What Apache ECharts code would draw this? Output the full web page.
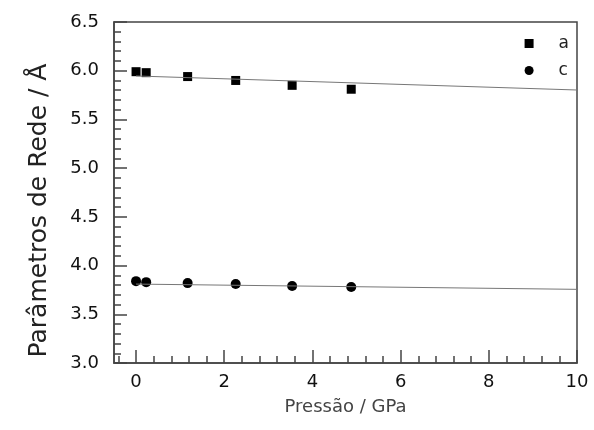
<!DOCTYPE html>
<html>
<head>
<meta charset="utf-8">
<script src="https://cdn.jsdelivr.net/npm/echarts@6/dist/echarts.min.js"></script>
<style>
  html, body { margin: 0; padding: 0; background: #fff; }
  #chart { width: 594px; height: 430px; }
</style>
</head>
<body>
<div id="chart"></div>
<script>
// pressure (GPa) and lattice parameters (Å)
const pressure = [0, 0.23, 1.17, 2.26, 3.54, 4.88];
const paramA = [5.99, 5.98, 5.94, 5.90, 5.85, 5.81];
const paramC = [3.84, 3.83, 3.82, 3.81, 3.79, 3.78];

// linear fits drawn across the axis
const fitA = [[0, 5.946], [10, 5.802]];
const fitC = [[0, 3.81], [10, 3.756]];

const xMajorTicks = [0, 2, 4, 6, 8, 10];
const xMinorTicks = [-0.4, 0.4, 0.8, 1.2, 1.6, 2.4, 2.8, 3.2, 3.6, 4.4, 4.8, 5.2, 5.6,
                     6.4, 6.8, 7.2, 7.6, 8.4, 8.8, 9.2, 9.6];

const chart = echarts.init(document.getElementById('chart'));
const font = 'DejaVu Sans';
const axisColor = '#444';

chart.setOption({
  animation: false,
  backgroundColor: '#fff',
  grid: {
    left: 114, right: 17, top: 22, bottom: 67,
    show: true,
    borderColor: axisColor,
    borderWidth: 1.5
  },
  legend: {
    orient: 'vertical',
    right: 20,
    top: 30,
    itemWidth: 9,
    itemHeight: 9,
    itemGap: 10,
    textStyle: { fontFamily: font, fontSize: 17, color: '#222', padding: [0, 0, 0, 20] },
    data: ['a', 'c']
  },
  xAxis: [
    {
      type: 'value',
      min: -0.5,
      max: 10,
      name: 'Pressão / GPa',
      nameLocation: 'middle',
      nameGap: 35,
      nameTextStyle: { fontFamily: font, fontSize: 18, color: '#444' },
      axisLine: { show: true, onZero: false, lineStyle: { color: axisColor, width: 1.5 } },
      axisTick: { show: true, inside: true, length: 13, customValues: xMajorTicks,
                  lineStyle: { color: axisColor, width: 1.5 } },
      axisLabel: { customValues: xMajorTicks, fontFamily: font, fontSize: 18, color: '#111', margin: 10 },
      splitLine: { show: false }
    },
    {
      type: 'value',
      position: 'bottom',
      min: -0.5,
      max: 10,
      axisLine: { show: false, onZero: false },
      axisTick: { show: true, inside: true, length: 7, customValues: xMinorTicks,
                  lineStyle: { color: axisColor, width: 1.5 } },
      axisLabel: { show: false },
      splitLine: { show: false }
    }
  ],
  yAxis: {
    type: 'value',
    min: 3.0,
    max: 6.5,
    interval: 0.5,
    name: 'Parâmetros de Rede / Å',
    nameLocation: 'middle',
    nameGap: 62,
    nameTextStyle: { fontFamily: font, fontSize: 25, color: '#222', padding: [0, 36, 0, 0] },
    axisLine: { show: true, onZero: false, lineStyle: { color: axisColor, width: 1.5 } },
    axisTick: { show: true, inside: true, length: 13, lineStyle: { color: axisColor, width: 1.5 } },
    minorTick: { show: true, splitNumber: 5, length: 7, lineStyle: { color: axisColor, width: 1.5 } },
    axisLabel: {
      fontFamily: font, fontSize: 18, color: '#111', margin: 15,
      formatter: v => v.toFixed(1)
    },
    splitLine: { show: false },
    minorSplitLine: { show: false }
  },
  series: [
    {
      type: 'line',
      data: fitA,
      symbol: 'none',
      silent: true,
      lineStyle: { color: '#777', width: 1 }
    },
    {
      type: 'line',
      data: fitC,
      symbol: 'none',
      silent: true,
      lineStyle: { color: '#777', width: 1 }
    },
    {
      name: 'a',
      type: 'scatter',
      symbol: 'rect',
      symbolSize: 9,
      itemStyle: { color: '#000', opacity: 1 },
      data: pressure.map((p, i) => [p, paramA[i]])
    },
    {
      name: 'c',
      type: 'scatter',
      symbol: 'circle',
      symbolSize: 10,
      itemStyle: { color: '#000', opacity: 1 },
      data: pressure.map((p, i) => [p, paramC[i]])
    }
  ]
});
</script>
</body>
</html>
